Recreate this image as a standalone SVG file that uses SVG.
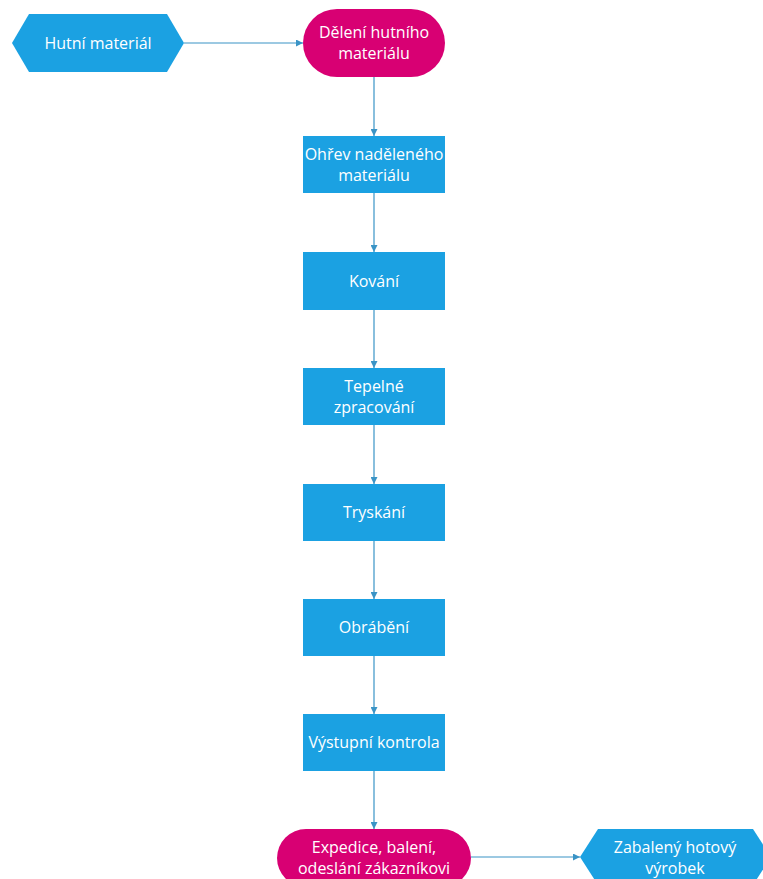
<svg xmlns="http://www.w3.org/2000/svg" width="763" height="879" viewBox="0 0 763 879">
  <style>
    .bg { fill: #ffffff; }
    .proc { fill: #1ba1e2; }
    .term { fill: #d80073; }
    .lbl { font-family: "Open Sans", "Noto Sans", sans-serif; font-size: 16px; fill: #ffffff; text-anchor: middle; }
    .edge { stroke: #3a94c6; stroke-width: 1.2; fill: none; marker-end: url(#arr); }
  </style>
  <defs>
    <marker id="arr" viewBox="0 0 10 10" refX="10" refY="5" markerWidth="7" markerHeight="7" markerUnits="userSpaceOnUse" orient="auto">
      <path d="M0,0 L10,5 L0,10 z" fill="#3a94c6"/>
    </marker>
  </defs>
  <rect class="bg" x="0" y="0" width="763" height="879"/>

  <g id="connectors">
    <line class="edge" x1="184" y1="43" x2="303" y2="43"/>
    <line class="edge" x1="374" y1="77" x2="374" y2="136"/>
    <line class="edge" x1="374" y1="193" x2="374" y2="252"/>
    <line class="edge" x1="374" y1="310" x2="374" y2="368"/>
    <line class="edge" x1="374" y1="425" x2="374" y2="484"/>
    <line class="edge" x1="374" y1="541" x2="374" y2="599"/>
    <line class="edge" x1="374" y1="656" x2="374" y2="714"/>
    <line class="edge" x1="374" y1="771" x2="374" y2="829"/>
    <line class="edge" x1="471" y1="857" x2="580" y2="857"/>
  </g>

  <g id="hutni-material">
    <polygon class="proc" points="12,43 29,14 167,14 184,43 167,72 29,72"/>
    <text class="lbl" x="98" y="49">Hutní materiál</text>
  </g>

  <g id="deleni">
    <rect class="term" x="303" y="9" width="142" height="68" rx="34" ry="34"/>
    <text class="lbl" x="374" y="38">Dělení hutního</text>
    <text class="lbl" x="374" y="59">materiálu</text>
  </g>

  <g id="ohrev">
    <rect class="proc" x="303" y="136" width="142" height="57"/>
    <text class="lbl" x="374" y="160">Ohřev naděleného</text>
    <text class="lbl" x="374" y="181">materiálu</text>
  </g>

  <g id="kovani">
    <rect class="proc" x="303" y="252" width="142" height="58"/>
    <text class="lbl" x="374" y="287">Kování</text>
  </g>

  <g id="tepelne">
    <rect class="proc" x="303" y="368" width="142" height="57"/>
    <text class="lbl" x="374" y="392">Tepelné</text>
    <text class="lbl" x="374" y="413">zpracování</text>
  </g>

  <g id="tryskani">
    <rect class="proc" x="303" y="484" width="142" height="57"/>
    <text class="lbl" x="374" y="518">Tryskání</text>
  </g>

  <g id="obrabeni">
    <rect class="proc" x="303" y="599" width="142" height="57"/>
    <text class="lbl" x="374" y="633">Obrábění</text>
  </g>

  <g id="vystupni-kontrola">
    <rect class="proc" x="303" y="714" width="142" height="57"/>
    <text class="lbl" x="374" y="748">Výstupní kontrola</text>
  </g>

  <g id="expedice">
    <rect class="term" x="277" y="829" width="194" height="58" rx="29" ry="29"/>
    <text class="lbl" x="374" y="853">Expedice, balení,</text>
    <text class="lbl" x="374" y="874">odeslání zákazníkovi</text>
  </g>

  <g id="zabaleny-vyrobek">
    <polygon class="proc" points="580,857 598,829 753,829 771,857 753,885 598,885"/>
    <text class="lbl" x="675" y="853">Zabalený hotový</text>
    <text class="lbl" x="675" y="874">výrobek</text>
  </g>
</svg>
